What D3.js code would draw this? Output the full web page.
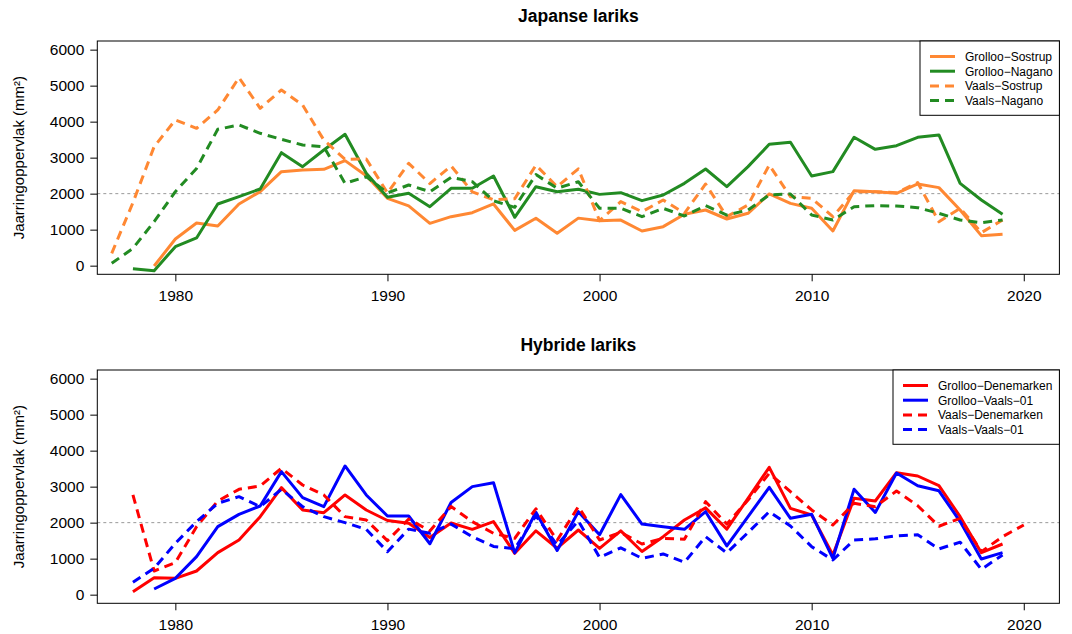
<!DOCTYPE html>
<html>
<head>
<meta charset="utf-8">
<title>Jaarringoppervlak lariks</title>
<script src="https://cdn.jsdelivr.net/npm/d3@7/dist/d3.min.js"></script>
<style>
  body { margin: 0; background: #fff; }
  svg text { font-family: "Liberation Sans", Arial, Helvetica, sans-serif; }
</style>
</head>
<body>
<svg width="1072" height="634"></svg>
<script>
// jaren 1977 .. 2020, null = geen meting
var years = [1977, 1978, 1979,
  1980, 1981, 1982, 1983, 1984, 1985, 1986, 1987, 1988, 1989,
  1990, 1991, 1992, 1993, 1994, 1995, 1996, 1997, 1998, 1999,
  2000, 2001, 2002, 2003, 2004, 2005, 2006, 2007, 2008, 2009,
  2010, 2011, 2012, 2013, 2014, 2015, 2016, 2017, 2018, 2019,
  2020];

// Japanse lariks
var grollooSostrup = [null, null, -10,
  740, 1185, 1100, 1713, 2055, 2611, 2657, 2676, 2917, 2500,
  1870, 1660, 1176, 1361, 1472, 1713, 980, 1315, 898, 1320,
  1245, 1265, 963, 1083, 1426, 1546, 1296, 1454, 1991, 1731,
  1593, 963, 2083, 2055, 2009, 2269, 2167, 1546, 833, 870,
  null];
var grollooNagano = [null, -83, -139,
  528, 769, 1713, 1917, 2130, 3139, 2750, 3213, 3648, 2565,
  1900, 2009, 1639, 2148, 2148, 2491, 1343, 2194, 2055, 2120,
  1980, 2028, 1806, 1963, 2287, 2685, 2194, 2750, 3370, 3426,
  2491, 2611, 3565, 3231, 3333, 3565, 3630, 2287, 1824, 1426,
  null];
var vaalsSostrup = [343, 1750, 3306,
  4046, 3815, 4324, 5222, 4370, 4880, 4463, 3490, 2954, 2963,
  2020, 2843, 2280, 2769, 2050, 1830, 1860, 2790, 2194, 2690,
  1250, 1778, 1500, 1824, 1454, 2269, 1361, 1685, 2796, 1917,
  1870, 1361, 2055, 2055, 2028, 2305, 1222, 1593, 917, 1269,
  null];
var vaalsNagano = [65, 481, 1222,
  2055, 2700, 3787, 3907, 3676, 3509, 3352, 3305, 2287, 2472,
  2020, 2240, 2055, 2450, 2333, 1800, 1620, 2530, 2150, 2330,
  1593, 1593, 1361, 1593, 1380, 1667, 1407, 1546, 1963, 1991,
  1407, 1269, 1639, 1667, 1657, 1611, 1454, 1269, 1194, 1269,
  null];

// Hybride lariks
var grollooDenemarken = [null, 83, 472,
  454, 657, 1167, 1519, 2167, 2972, 2352, 2278, 2769, 2352,
  2060, 1981, 1590, 1990, 1815, 2028, 1148, 1773, 1290, 1796,
  1287, 1773, 1200, 1611, 2074, 2410, 1820, 2676, 3537, 2398,
  2213, 1100, 2676, 2602, 3389, 3296, 3028, 2167, 1167, 1407,
  null];
var grollooVaals01 = [null, null, 157,
  454, 1056, 1889, 2231, 2463, 3417, 2694, 2444, 3574, 2769,
  2185, 2185, 1415, 2560, 3000, 3111, 1160, 2290, 1227, 2305,
  1666, 2778, 1960, 1889, 1815, 2305, 1355, 2167, 2981, 2120,
  2231, 1010, 2930, 2283, 3380, 3024, 2885, 2030, 991, 1167,
  null];
var vaalsDenemarken = [null, 2769, 657,
  889, 1889, 2602, 2926, 3019, 3509, 3046, 2769, 2167, 2074,
  1500, 2100, 1770, 2450, 2028, 1704, 1565, 2385, 1510, 2444,
  1519, 1727, 1407, 1565, 1537, 2583, 1960, 2630, 3370, 2861,
  2352, 1935, 2537, 2444, 2880, 2470, 1900, 2120, 1194, 1611,
  1935];
var vaalsVaals01 = [null, 343, 731,
  1426, 2028, 2537, 2722, 2444, 2926, 2444, 2167, 2000, 1815,
  1194, 1820, 1704, 1960, 1610, 1340, 1278, 2190, 1380, 2050,
  1037, 1300, 1010, 1130, 898, 1611, 1160, 1725, 2305, 1907,
  1333, 963, 1519, 1550, 1635, 1666, 1270, 1458, 704, 1102,
  null];

var yTicks = [0, 1000, 2000, 3000, 4000, 5000, 6000];
var xTicks = [1980, 1990, 2000, 2010, 2020];
var refLevel = 2000;

var orange = '#ff8833', green = '#228b22';

var panels = [
  { title: 'Japanse lariks', top: 41, bottom: 274.3, legendLeft: 920, lineLen: 25,
    series: [
      { name: 'Grolloo\u2212Sostrup', values: grollooSostrup, color: orange, dash: false },
      { name: 'Grolloo\u2212Nagano', values: grollooNagano, color: green, dash: false },
      { name: 'Vaals\u2212Sostrup', values: vaalsSostrup, color: orange, dash: true },
      { name: 'Vaals\u2212Nagano', values: vaalsNagano, color: green, dash: true }
    ] },
  { title: 'Hybride lariks', top: 370, bottom: 603.3, legendLeft: 893, lineLen: 25,
    series: [
      { name: 'Grolloo\u2212Denemarken', values: grollooDenemarken, color: 'red', dash: false },
      { name: 'Grolloo\u2212Vaals\u221201', values: grollooVaals01, color: 'blue', dash: false },
      { name: 'Vaals\u2212Denemarken', values: vaalsDenemarken, color: 'red', dash: true },
      { name: 'Vaals\u2212Vaals\u221201', values: vaalsVaals01, color: 'blue', dash: true }
    ] }
];

var svg = d3.select('svg');
var left = 97.3, right = 1059.4;
var dashPattern = '9,6';

var x = d3.scaleLinear().domain([1976.32, 2021.68]).range([left, right]);

panels.forEach(function(p) {
  var y = d3.scaleLinear().domain([-240, 6240]).range([p.bottom, p.top]);
  var g = svg.append('g');

  // titel
  g.append('text')
    .text(p.title)
    .attr('x', (left + right) / 2)
    .attr('y', p.top - 19)
    .attr('text-anchor', 'middle')
    .attr('font-size', '17.5px')
    .attr('font-weight', 'bold');

  // y as label
  g.append('text')
    .text('Jaarringoppervlak (mm\u00b2)')
    .attr('transform', 'translate(24,' + ((p.top + p.bottom) / 2) + ') rotate(-90)')
    .attr('text-anchor', 'middle')
    .attr('font-size', '15px');

  var yAxis = g.append('g')
    .attr('transform', 'translate(' + left + ',0)')
    .call(d3.axisLeft(y).tickValues(yTicks).tickFormat(d3.format('d')).tickSize(7).tickPadding(6));
  yAxis.select('.domain').remove();
  yAxis.selectAll('text').attr('font-size', '15.5px').attr('font-family', null).attr('fill', '#000');

  var xAxis = g.append('g')
    .attr('transform', 'translate(0,' + p.bottom + ')')
    .call(d3.axisBottom(x).tickValues(xTicks).tickFormat(d3.format('d')).tickSize(7).tickPadding(8.5));
  xAxis.select('.domain').remove();
  xAxis.selectAll('text').attr('font-size', '15.5px').attr('font-family', null).attr('fill', '#000');

  // stippellijn op 2000
  g.append('line')
    .attr('x1', left).attr('x2', right)
    .attr('y1', y(refLevel)).attr('y2', y(refLevel))
    .attr('stroke', '#999').attr('stroke-width', 1).attr('stroke-dasharray', '3,3');

  var clipId = 'clip' + p.top;
  svg.append('clipPath').attr('id', clipId)
    .append('rect').attr('x', left).attr('y', p.top).attr('width', right - left).attr('height', p.bottom - p.top);

  var line = d3.line()
    .defined(function(d) { return d[1] != null; })
    .x(function(d) { return x(d[0]); })
    .y(function(d) { return y(d[1]); });

  p.series.forEach(function(s) {
    var pts = years.map(function(yr, i) { return [yr, s.values[i]]; });
    g.append('path')
      .datum(pts)
      .attr('d', line)
      .attr('clip-path', 'url(#' + clipId + ')')
      .attr('fill', 'none')
      .attr('stroke', s.color)
      .attr('stroke-width', 3)
      .attr('stroke-linejoin', 'round')
      .attr('stroke-dasharray', s.dash ? dashPattern : null);
  });

  // kader
  g.append('rect')
    .attr('x', left).attr('y', p.top)
    .attr('width', right - left).attr('height', p.bottom - p.top)
    .attr('fill', 'none').attr('stroke', '#000').attr('stroke-width', 1);

  // legenda
  var lg = g.append('g');
  var rowH = 14.7, firstRow = p.top + 15.5;
  lg.append('rect')
    .attr('x', p.legendLeft).attr('y', p.top)
    .attr('width', right - p.legendLeft).attr('height', rowH * 4 + 15.5)
    .attr('fill', '#fff').attr('stroke', '#000').attr('stroke-width', 1);
  p.series.forEach(function(s, i) {
    var yy = firstRow + i * rowH;
    lg.append('line')
      .attr('x1', p.legendLeft + 10).attr('x2', p.legendLeft + 10 + p.lineLen)
      .attr('y1', yy).attr('y2', yy)
      .attr('stroke', s.color).attr('stroke-width', 3)
      .attr('stroke-dasharray', s.dash ? dashPattern : null);
    lg.append('text')
      .text(s.name)
      .attr('x', p.legendLeft + 45)
      .attr('y', yy + 4.3)
      .attr('font-size', '12px');
  });
});
</script>
</body>
</html>
